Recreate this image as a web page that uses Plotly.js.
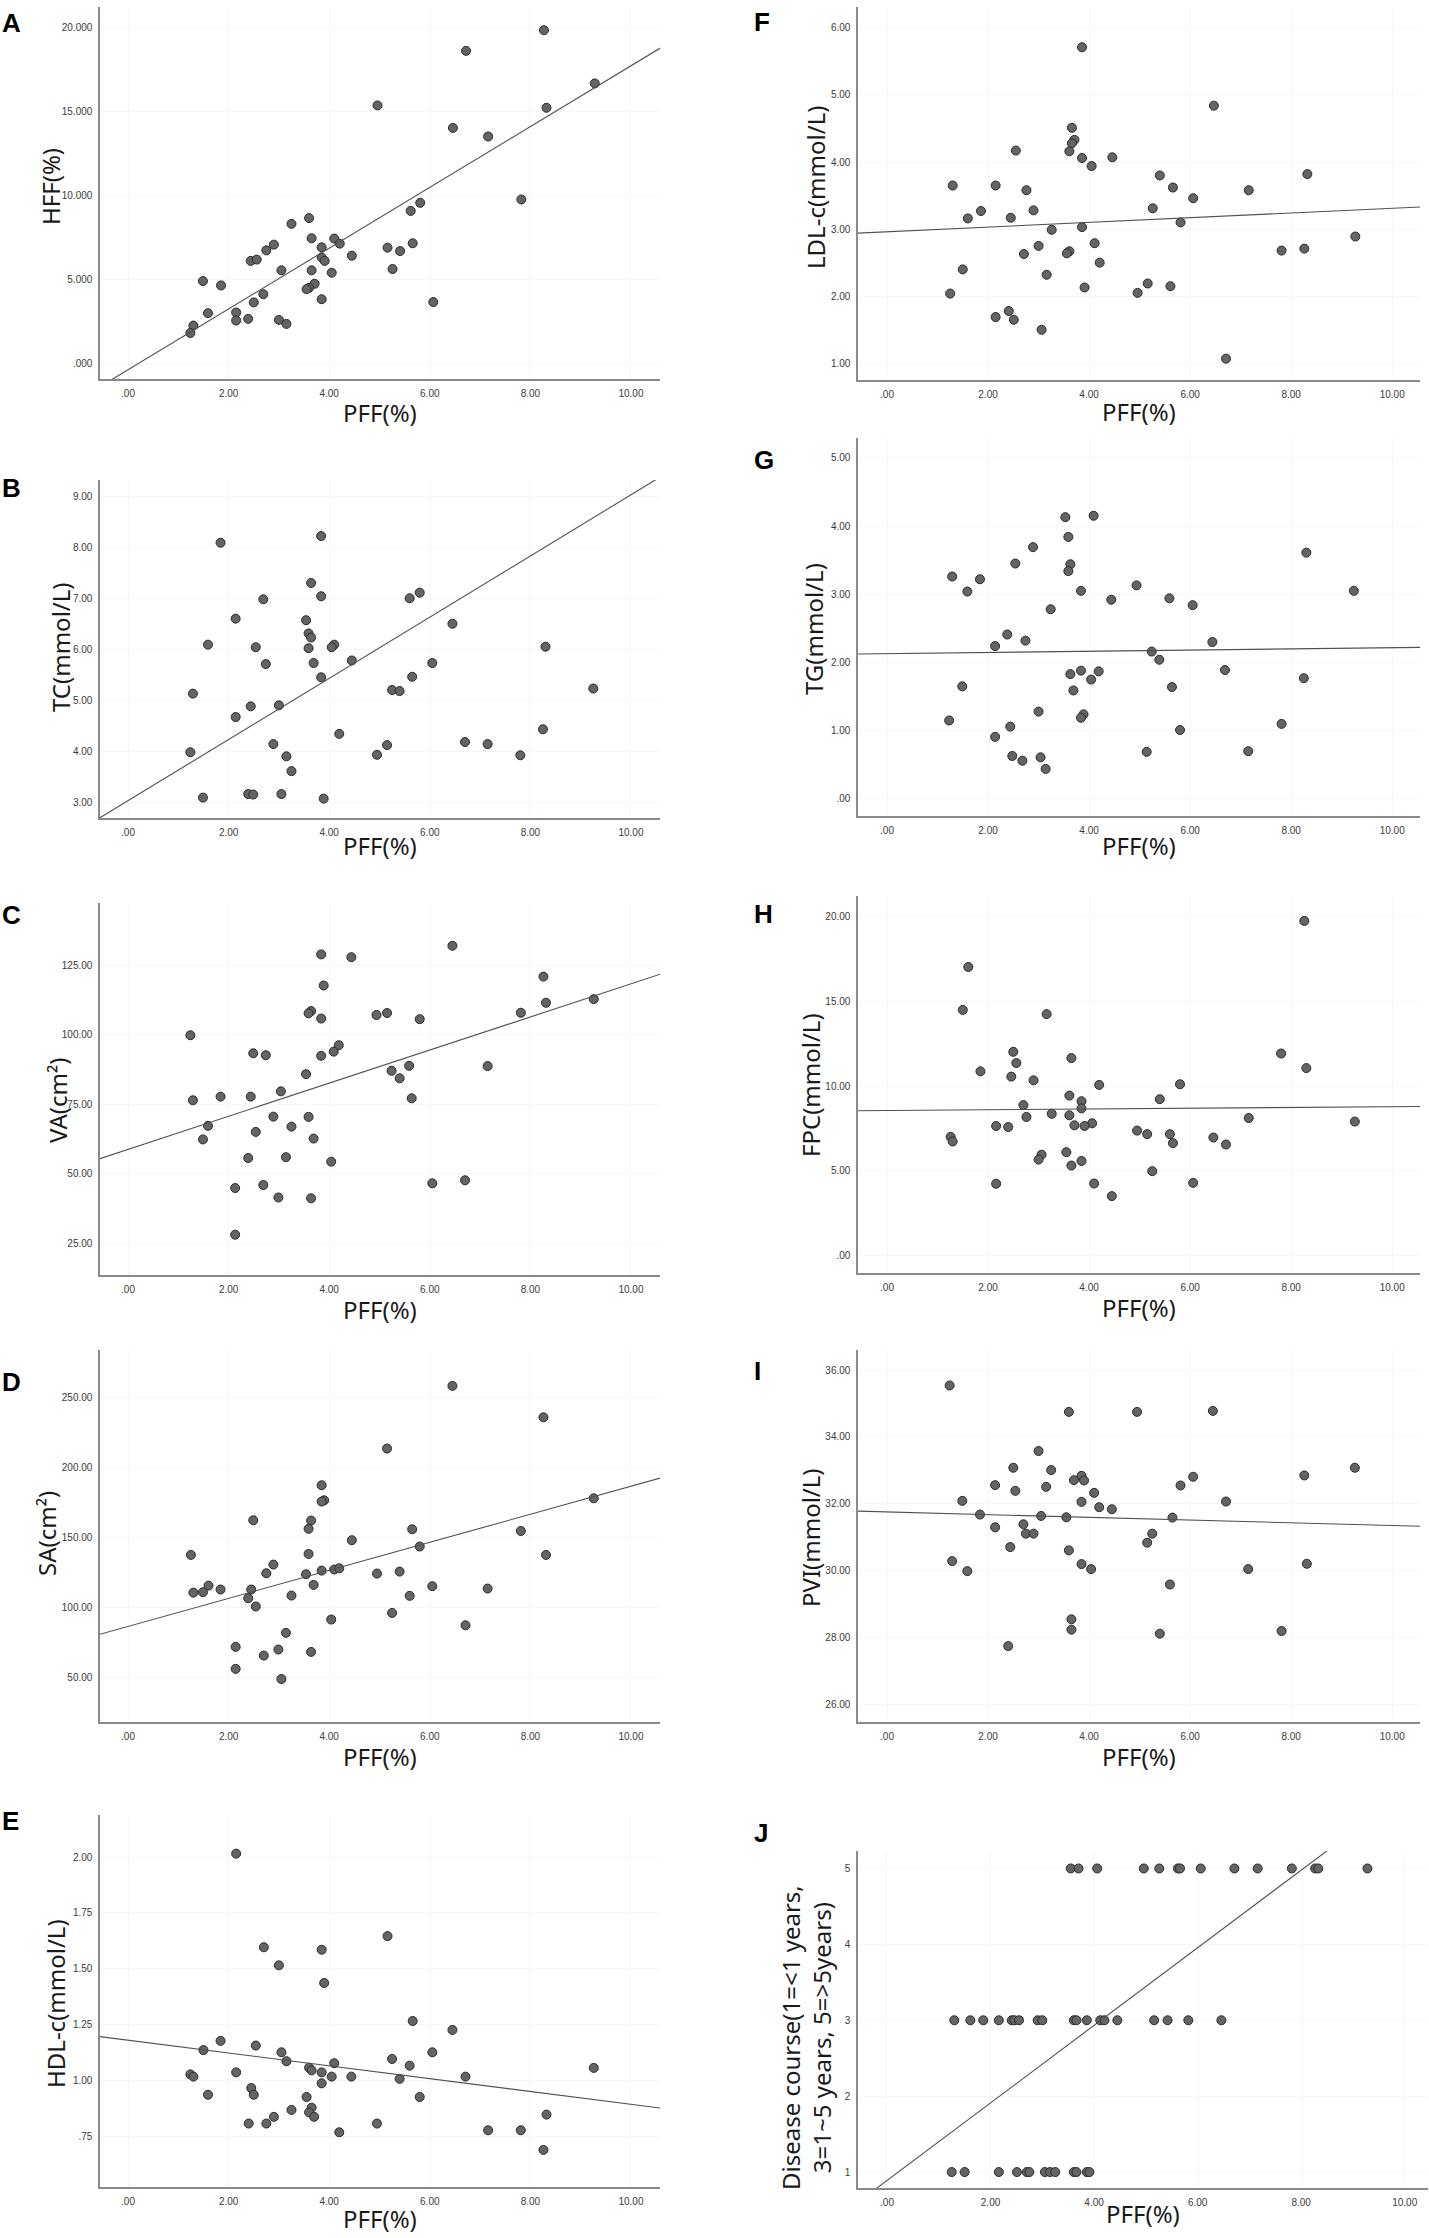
<!DOCTYPE html>
<html><head><meta charset="utf-8">
<script src="https://cdn.plot.ly/plotly-3.0.1.min.js"></script>
<style>html,body{margin:0;padding:0;background:#fff;}#chart{width:1429px;height:2238px;}</style>
</head><body><div id="chart"></div>
<script>
// ---------- DATA ----------
const xTickVals = [0,2,4,6,8,10];
const xTickText = [".00","2.00","4.00","6.00","8.00","10.00"];

// A: HFF(%)
const pffA = [8.27,6.72,9.28,4.96,8.32,6.46,7.16,7.82,5.81,5.62,3.60,3.25,3.65,4.10,4.21,5.66,2.90,5.16,3.85,2.75,5.41,4.45,3.85,3.91,2.44,2.56,3.05,3.65,5.26,4.05,1.49,1.85,3.71,3.60,3.55,2.69,3.85,2.50,6.07,1.59,2.15,2.15,2.39,3.00,3.15,1.30,1.24];
const hffA = [19.82,18.59,16.65,15.34,15.20,14.00,13.49,9.74,9.54,9.06,8.63,8.29,7.43,7.41,7.11,7.13,7.05,6.87,6.89,6.71,6.67,6.39,6.29,6.08,6.08,6.16,5.52,5.52,5.60,5.38,4.88,4.62,4.72,4.48,4.40,4.10,3.80,3.61,3.63,2.97,3.01,2.53,2.63,2.57,2.33,2.23,1.79];
const fitA = [-0.40, 1.81];
const yTickValsA = [0,5,10,15,20];
const yTickTextA = [".000","5.000","10.000","15.000","20.000"];

// B: TC
const pffB = [3.84,1.84,3.64,3.84,5.80,2.69,5.60,2.14,3.54,6.45,3.59,3.64,1.59,2.54,3.59,4.10,4.05,8.30,4.45,3.69,2.74,6.05,3.84,5.65,5.25,5.40,1.29,9.25,3.00,2.44,2.14,4.20,8.25,2.89,5.15,6.70,7.15,1.24,4.95,3.15,7.80,3.25,2.39,2.49,3.05,1.49,3.89];
const tcB = [8.22,8.09,7.30,7.04,7.11,6.98,7.00,6.60,6.57,6.50,6.31,6.23,6.09,6.04,6.02,6.09,6.04,6.05,5.78,5.73,5.71,5.73,5.45,5.46,5.20,5.18,5.13,5.23,4.90,4.88,4.67,4.34,4.43,4.14,4.12,4.18,4.14,3.98,3.93,3.90,3.92,3.61,3.16,3.15,3.16,3.09,3.07];
const fitB = [3.03, 0.60];
const yTickValsB = [3,4,5,6,7,8,9];
const yTickTextB = ["3.00","4.00","5.00","6.00","7.00","8.00","9.00"];

// C: VA
const pffC = [6.45,3.84,4.44,8.26,3.89,9.26,8.31,3.64,3.59,5.15,7.81,4.94,3.84,5.80,1.24,4.19,4.09,2.49,2.74,3.84,3.54,7.15,5.59,5.24,5.40,3.04,5.64,1.84,2.44,1.29,2.89,3.59,1.59,3.25,2.54,1.49,3.69,2.39,3.14,4.04,6.05,6.70,2.69,2.13,2.99,3.64,2.13];
const vaC = [132.0,128.9,127.9,120.9,117.7,112.8,111.5,108.5,107.7,107.8,107.9,107.1,105.8,105.6,99.8,96.2,93.9,93.3,92.6,92.4,85.8,88.7,88.8,87.0,84.3,79.6,77.1,77.7,77.7,76.4,70.5,70.4,67.2,66.9,65.0,62.3,62.6,55.6,55.9,54.3,46.5,47.6,45.9,44.8,41.4,41.1,28.0];
const fitC = [58.7, 5.96];
const yTickValsC = [25,50,75,100,125];
const yTickTextC = ["25.00","50.00","75.00","100.00","125.00"];

// D: SA
const pffD = [6.45,8.26,5.15,3.85,3.90,3.85,9.26,2.49,3.64,3.59,5.65,7.81,4.45,5.80,1.25,3.59,8.31,2.89,3.85,4.10,4.20,2.75,3.54,4.95,5.40,3.69,1.60,6.05,1.84,2.45,7.15,1.30,1.49,2.39,3.25,5.60,2.54,5.25,4.04,6.71,3.14,2.14,2.99,3.64,2.70,2.14,3.05];
const saD = [258.1,235.7,213.4,187.2,176.5,175.6,177.9,162.2,162.0,156.1,155.8,154.6,148.0,143.5,137.5,138.2,137.5,130.6,126.3,127.1,128.0,124.4,123.7,124.2,125.6,116.1,115.6,115.2,112.8,112.8,113.5,110.6,110.9,106.6,108.5,108.3,100.7,96.1,91.4,87.3,81.9,71.9,70.0,68.3,65.7,56.2,49.0];
const fitD = [86.5, 10.0];
const yTickValsD = [50,100,150,200,250];
const yTickTextD = ["50.00","100.00","150.00","200.00","250.00"];

// E: HDL-c
const pffE = [2.15,5.16,2.70,3.85,3.00,3.90,5.66,6.45,1.84,2.54,1.50,3.05,6.05,5.25,3.15,4.10,3.60,5.60,9.26,3.65,2.15,3.85,1.24,1.30,4.05,4.44,6.71,5.40,3.85,2.45,1.59,2.50,3.55,5.80,3.65,3.25,3.60,2.90,3.70,8.32,2.40,2.75,4.95,4.20,7.16,7.81,8.26];
const hdlE = [2.015,1.646,1.596,1.585,1.515,1.436,1.266,1.226,1.177,1.156,1.136,1.126,1.126,1.096,1.086,1.077,1.057,1.066,1.056,1.045,1.036,1.036,1.027,1.017,1.017,1.017,1.017,1.007,0.987,0.966,0.936,0.936,0.926,0.926,0.878,0.868,0.857,0.837,0.837,0.847,0.807,0.807,0.807,0.768,0.777,0.777,0.689];
const fitE = [1.180, -0.0287];
const yTickValsE = [0.75,1.00,1.25,1.50,1.75,2.00];
const yTickTextE = [".75","1.00","1.25","1.50","1.75","2.00"];

// F: LDL-c
const pffF = [3.86,6.47,3.66,3.71,3.66,3.61,2.55,3.86,4.46,4.05,5.40,8.32,1.30,2.15,5.66,2.76,7.16,6.06,1.86,2.90,5.26,1.60,2.45,5.81,3.86,3.26,9.27,3.00,4.11,8.26,2.71,3.61,3.56,7.81,1.50,4.21,3.16,3.91,5.16,5.61,1.25,4.96,2.41,2.15,2.51,3.06,6.71];
const ldlF = [5.71,4.84,4.51,4.33,4.28,4.16,4.17,4.06,4.07,3.94,3.80,3.82,3.65,3.65,3.62,3.58,3.58,3.46,3.27,3.28,3.31,3.16,3.17,3.10,3.03,2.99,2.89,2.75,2.79,2.71,2.63,2.67,2.64,2.68,2.40,2.50,2.32,2.13,2.19,2.15,2.04,2.05,1.78,1.69,1.65,1.50,1.07];
const fitF = [2.96, 0.035];
const yTickValsF = [1,2,3,4,5,6];
const yTickTextF = ["1.00","2.00","3.00","4.00","5.00","6.00"];

// G: TG
const pffG = [4.09,3.53,3.59,2.89,8.30,2.54,3.63,3.59,1.29,1.84,1.59,3.84,4.94,9.24,4.44,5.59,6.05,3.24,2.38,2.74,2.14,6.44,5.24,5.39,3.84,4.19,6.69,3.63,4.04,8.25,1.49,5.64,3.69,3.00,3.89,3.84,1.23,2.44,7.81,5.80,2.14,5.14,7.15,2.48,3.04,2.68,3.14];
const tgG = [4.15,4.13,3.84,3.69,3.61,3.45,3.44,3.34,3.26,3.22,3.04,3.05,3.13,3.05,2.92,2.94,2.84,2.78,2.41,2.32,2.24,2.30,2.16,2.04,1.88,1.87,1.89,1.83,1.75,1.77,1.65,1.64,1.59,1.28,1.24,1.19,1.15,1.06,1.10,1.01,0.91,0.69,0.70,0.63,0.61,0.56,0.44];
const fitG = [2.129, 0.0088];
const yTickValsG = [0,1,2,3,4,5];
const yTickTextG = [".00","1.00","2.00","3.00","4.00","5.00"];

// H: FPC
const pffH = [8.26,1.61,1.50,3.16,2.50,7.80,3.65,2.56,8.30,1.85,2.46,2.90,4.20,5.80,3.61,5.40,3.85,2.70,3.85,3.26,3.61,2.76,7.16,9.26,4.06,2.16,2.40,3.71,3.91,4.95,5.15,5.60,1.26,6.46,1.30,5.66,6.71,3.55,3.06,3.00,3.85,3.65,5.25,2.16,4.10,6.06,4.45];
const fpcH = [19.73,17.02,14.49,14.24,12.02,11.92,11.65,11.36,11.06,10.87,10.56,10.34,10.07,10.11,9.44,9.23,9.11,8.88,8.69,8.37,8.28,8.18,8.12,7.91,7.81,7.65,7.59,7.69,7.65,7.38,7.17,7.17,7.01,6.97,6.74,6.64,6.56,6.11,5.96,5.67,5.59,5.32,4.99,4.25,4.26,4.30,3.52];
const fitH = [8.56, 0.0226];
const yTickValsH = [0,5,10,15,20];
const yTickTextH = [".00","5.00","10.00","15.00","20.00"];

// I: PVI
const pffI = [1.24,3.60,4.95,6.45,3.00,2.50,3.25,9.26,3.85,8.26,3.70,3.90,6.06,2.14,3.15,5.81,2.54,4.10,1.49,3.85,6.71,4.20,4.45,1.84,3.05,3.55,5.65,2.70,2.14,2.75,2.90,5.25,5.15,2.44,3.60,1.29,3.85,8.31,1.59,4.04,7.15,5.60,3.65,3.65,7.81,5.40,2.40];
const pviI = [35.54,34.75,34.75,34.78,33.58,33.08,33.01,33.08,32.84,32.85,32.71,32.70,32.81,32.56,32.51,32.55,32.39,32.33,32.09,32.06,32.07,31.90,31.84,31.68,31.64,31.60,31.59,31.39,31.30,31.11,31.11,31.11,30.84,30.71,30.61,30.29,30.20,30.21,29.99,30.05,30.05,29.59,28.55,28.24,28.20,28.12,27.75];
const fitI = [31.76, -0.0405];
const yTickValsI = [26,28,30,32,34,36];
const yTickTextI = ["26.00","28.00","30.00","32.00","34.00","36.00"];

// J: Disease course
const pffJ = [3.55,3.70,4.06,4.96,5.26,5.62,5.66,6.06,6.71,7.16,7.82,8.27,8.33,9.28,
              1.30,1.61,1.86,2.16,2.41,2.46,2.55,2.91,3.00,3.61,3.66,3.86,4.12,4.20,4.45,5.16,5.42,5.82,6.46,
              1.25,1.50,2.16,2.51,2.70,2.75,3.05,3.15,3.25,3.61,3.66,3.86,3.91];
const courseJ = [5,5,5,5,5,5,5,5,5,5,5,5,5,5,
                 3,3,3,3,3,3,3,3,3,3,3,3,3,3,3,3,3,3,3,
                 1,1,1,1,1,1,1,1,1,1,1,1,1];
const fitJ = [0.889, 0.511];
const yTickValsJ = [1,2,3,4,5];
const yTickTextJ = ["1","2","3","4","5"];

const yTitles = ["HFF(%)","TC(mmol/L)","VA(cm²)","SA(cm²)","HDL-c(mmol/L)",
                 "LDL-c(mmol/L)","TG(mmol/L)","FPC(mmol/L)","PVI(mmol/L)",
                 "Disease course(1=<1 years,<br>3=1~5 years, 5=>5years)"];
const panelLetters = ["A","B","C","D","E","F","G","H","I","J"];
const xTitle = "PFF(%)";

// ---------- LAYOUT (pixel geometry) ----------
const W = 1429, H = 2238;
const fx = p => p / W, fy = p => 1 - p / H;

const panels = [
  {x:pffA, y:hffA, fit:fitA, tv:yTickValsA, tt:yTickTextA, yr:[-0.95,21.2], col:0, top:7,    bot:379,  ytx:50,  yty:186,  xty:413,  lx:0,   ly:23},
  {x:pffB, y:tcB,  fit:fitB, tv:yTickValsB, tt:yTickTextB, yr:[2.69,9.32],  col:0, top:480,  bot:818,  ytx:60,  yty:647,  xty:845,  lx:0,   ly:488},
  {x:pffC, y:vaC,  fit:fitC, tv:yTickValsC, tt:yTickTextC, yr:[13.5,147.4], col:0, top:903,  bot:1275, ytx:57,  yty:1100, xty:1309, lx:0,   ly:915},
  {x:pffD, y:saD,  fit:fitD, tv:yTickValsD, tt:yTickTextD, yr:[18.3,283.7], col:0, top:1350, bot:1722, ytx:46,  yty:1534, xty:1756, lx:0,   ly:1382},
  {x:pffE, y:hdlE, fit:fitE, tv:yTickValsE, tt:yTickTextE, yr:[0.523,2.188],col:0, top:1815, bot:2187, ytx:55,  yty:2004, xty:2218, lx:0,   ly:1821},
  {x:pffF, y:ldlF, fit:fitF, tv:yTickValsF, tt:yTickTextF, yr:[0.752,6.31], col:1, top:7,    bot:380,  ytx:816, yty:188,  xty:412,  lx:752, ly:22},
  {x:pffG, y:tgG,  fit:fitG, tv:yTickValsG, tt:yTickTextG, yr:[-0.25,5.29], col:1, top:438,  bot:816,  ytx:813, yty:629,  xty:845,  lx:752, ly:460},
  {x:pffH, y:fpcH, fit:fitH, tv:yTickValsH, tt:yTickTextH, yr:[-1.01,21.2], col:1, top:896,  bot:1273, ytx:810, yty:1085, xty:1307, lx:752, ly:914},
  {x:pffI, y:pviI, fit:fitI, tv:yTickValsI, tt:yTickTextI, yr:[25.48,36.6], col:1, top:1350, bot:1722, ytx:810, yty:1538, xty:1756, lx:752, ly:1371},
  {x:pffJ, y:courseJ, fit:fitJ, tv:yTickValsJ, tt:yTickTextJ, yr:[0.79,5.23], col:2, top:1851, bot:2188, ytx:806, yty:2038, xty:2213, lx:752, ly:1833}
];
const cols = [
  {l:100, r:660,  xr:[-0.557,10.577]},
  {l:858, r:1420, xr:[-0.574,10.55]},
  {l:858, r:1428, xr:[-0.56,10.45]}
];

const tickFont = {family:"'Liberation Sans Narrow','Arial Narrow','Liberation Sans',sans-serif", size:10, color:'#3a3a3a'};
const titleFont = {family:"'Noto Sans','Open Sans',sans-serif", size:24, color:'#1a1a1a'};
const letterFont = {family:"'Liberation Sans',Arial,sans-serif", size:26, color:'#000'};

const traces = [];
const layout = {
  width: W, height: H, margin:{l:0,r:0,t:0,b:0},
  paper_bgcolor:'#fff', plot_bgcolor:'#fff', showlegend:false,
  annotations: []
};

panels.forEach((p, i) => {
  const n = i + 1;
  const xa = n === 1 ? 'x' : 'x' + n, ya = n === 1 ? 'y' : 'y' + n;
  const c = cols[p.col];
  traces.push({
    type:'scatter', mode:'markers', x:p.x, y:p.y, xaxis:xa, yaxis:ya,
    marker:{size:9, color:'#646464', line:{color:'#2b2b2b', width:1}},
    hoverinfo:'x+y'
  });
  const x0 = c.xr[0] - 0.2, x1 = c.xr[1] + 0.2;
  traces.push({
    type:'scatter', mode:'lines', x:[x0, x1],
    y:[p.fit[0] + p.fit[1]*x0, p.fit[0] + p.fit[1]*x1],
    xaxis:xa, yaxis:ya, line:{color:'#505050', width:1.1}, hoverinfo:'skip'
  });
  const common = {
    showline:true, linecolor:'#8a8a8a', linewidth:1.6, mirror:false,
    zeroline:false, showgrid:true, gridcolor:'#f7f7f7', gridwidth:1,
    ticks:'outside', ticklen:4, tickcolor:'rgba(0,0,0,0)',
    tickfont:tickFont, tickmode:'array', fixedrange:true
  };
  layout['xaxis' + (n === 1 ? '' : n)] = Object.assign({}, common, {
    domain:[fx(c.l), fx(c.r)], range:c.xr, anchor:ya,
    tickvals:xTickVals, ticktext:xTickText
  });
  layout['yaxis' + (n === 1 ? '' : n)] = Object.assign({}, common, {
    domain:[fy(p.bot), fy(p.top)], range:p.yr, anchor:xa,
    tickvals:p.tv, ticktext:p.tt
  });
  layout.annotations.push({
    xref:'paper', yref:'paper', x:fx(p.lx), y:fy(p.ly), xanchor:'left', yanchor:'middle',
    text:'<b>' + panelLetters[i] + '</b>', showarrow:false, font:letterFont
  });
  layout.annotations.push({
    xref:'paper', yref:'paper', x:fx(p.ytx), y:fy(p.yty), xanchor:'center', yanchor:'middle',
    text:yTitles[i], textangle:-90, showarrow:false, font:titleFont
  });
  layout.annotations.push({
    xref:'paper', yref:'paper', x:fx((c.l + c.r)/2), y:fy(p.xty), xanchor:'center', yanchor:'middle',
    text:xTitle, showarrow:false, font:titleFont
  });
});

Plotly.newPlot('chart', traces, layout, {displayModeBar:false, staticPlot:true});
</script>
</body></html>
